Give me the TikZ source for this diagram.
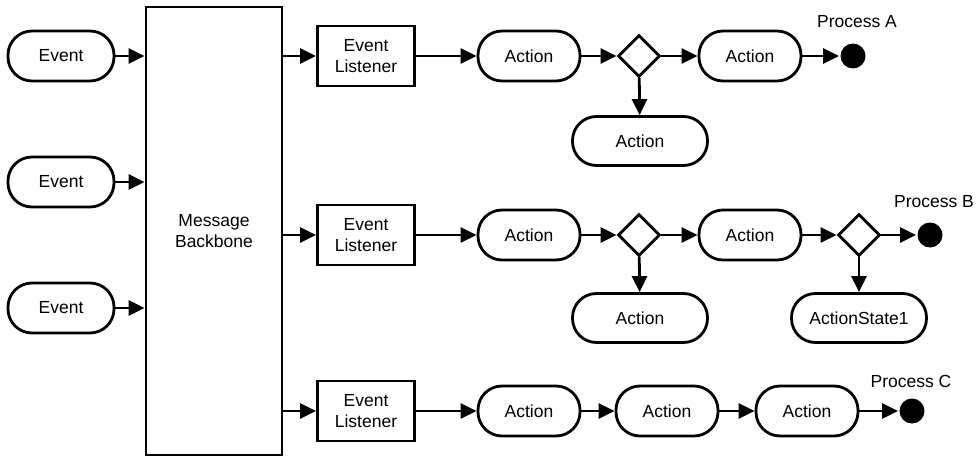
\documentclass[tikz,border=0pt]{standalone}
\usepackage{fontspec}
\setmainfont{Liberation Sans}
\usetikzlibrary{shapes.geometric,arrows.meta}
\begin{document}
\begin{tikzpicture}[x=1pt,y=-1pt,
  every node/.style={font=\fontsize{17.5}{20.5}\selectfont, line width=2.8pt, inner sep=0pt},
  pill/.style={draw, rectangle, rounded corners=24pt, minimum width=102pt, minimum height=50pt},
  eventbox/.style={pill, minimum width=106pt},
  widepill/.style={pill, minimum width=135pt, minimum height=49pt},
  listener/.style={draw, rectangle, minimum width=97pt, minimum height=60pt, align=center},
  choice/.style={draw, diamond, minimum width=42pt, minimum height=42pt, aspect=1},
  final/.style={circle, fill=black, minimum size=25pt},
  flow/.style={line width=2.8pt, -{Triangle[length=16pt,width=15pt]}},
  lbl/.style={font=\fontsize{17.5}{20.5}\selectfont}]
\useasboundingbox (0,0) rectangle (978,460);

% event sources
\node[eventbox] (ev1) at (61,56) {Event};
\node[eventbox] (ev2) at (61,182) {Event};
\node[eventbox] (ev3) at (61,308) {Event};

% message backbone
\node[draw, rectangle, minimum width=136pt, minimum height=448pt, align=center] (mb) at (214,231) {Message\\Backbone};

% listeners
\node[listener] (el1) at (366,56) {Event\\Listener};
\node[listener] (el2) at (366,235) {Event\\Listener};
\node[listener] (el3) at (366,411) {Event\\Listener};

% process A
\node[pill] (a1) at (529,56) {Action};
\node[choice] (d1) at (639,56) {};
\node[pill] (a2) at (750,56) {Action};
\node[final] (fa) at (853,56) {};
\node[lbl] (pa) at (857,22) {Process A};
\node[widepill] (a3) at (640,141) {Action};

% process B
\node[pill] (b1) at (529,235) {Action};
\node[choice] (d2) at (639,235) {};
\node[pill] (b2) at (750,235) {Action};
\node[choice] (d3) at (859,235) {};
\node[final] (fb) at (930,235) {};
\node[lbl] (pb) at (934,202) {Process B};
\node[widepill] (b3) at (640,318) {Action};
\node[widepill] (b4) at (859,318) {ActionState1};

% process C
\node[pill] (c1) at (529,411) {Action};
\node[pill] (c2) at (667,411) {Action};
\node[pill] (c3) at (807,411) {Action};
\node[final] (fc) at (912,411) {};
\node[lbl] (pc) at (911,381) {Process C};

% connectors
\draw[flow] (ev1.east) -- (ev1.east -| mb.west);
\draw[flow] (ev2.east) -- (ev2.east -| mb.west);
\draw[flow] (ev3.east) -- (ev3.east -| mb.west);
\draw[flow] (el1.west -| mb.east) -- (el1.west);
\draw[flow] (el2.west -| mb.east) -- (el2.west);
\draw[flow] (el3.west -| mb.east) -- (el3.west);

\draw[flow] (el1) -- (a1);
\draw[flow] (a1) -- (d1);
\draw[flow] (d1) -- (a2);
\draw[flow] (a2) -- (fa);
\draw[flow] (d1) -- (a3);

\draw[flow] (el2) -- (b1);
\draw[flow] (b1) -- (d2);
\draw[flow] (d2) -- (b2);
\draw[flow] (b2) -- (d3);
\draw[flow] (d3) -- (fb);
\draw[flow] (d2) -- (b3);
\draw[flow] (d3) -- (b4);

\draw[flow] (el3) -- (c1);
\draw[flow] (c1) -- (c2);
\draw[flow] (c2) -- (c3);
\draw[flow] (c3) -- (fc);
\end{tikzpicture}
\end{document}
